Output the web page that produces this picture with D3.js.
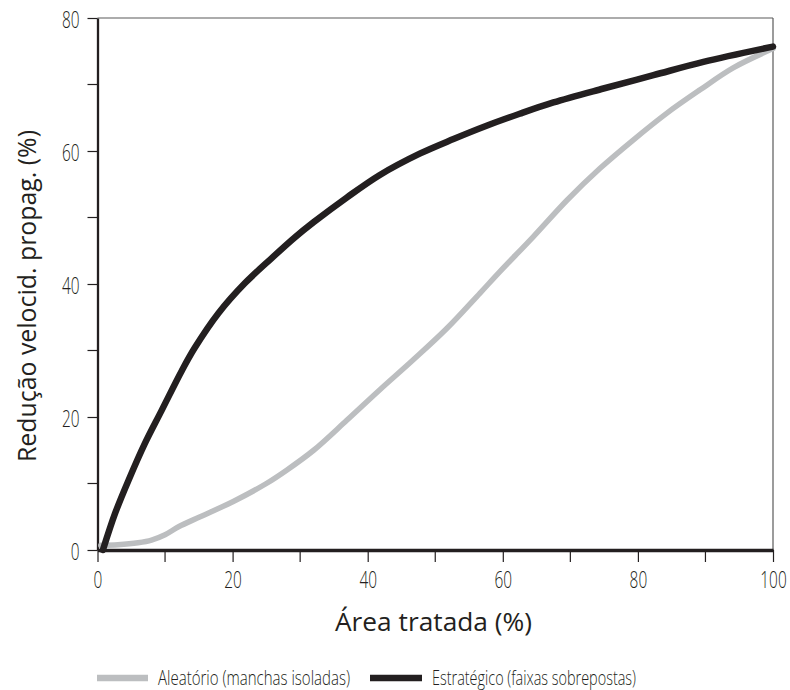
<!DOCTYPE html>
<html><head><meta charset="utf-8">
<script src="https://cdn.jsdelivr.net/npm/d3@7"></script>
<style>
body{margin:0;background:#fff;}
svg text{fill:#231f20;}
.tick text{font-family:"Open Sans",sans-serif;font-size:23px;font-weight:300;}
</style></head>
<body><svg id="c" width="790" height="690"></svg>
<script>
const areaAleatorio = [0.5,3,6,8,10,12,15.2,20.1,25,28,32,36.9,41.8,46.75,51.7,56.6,59.6,64.5,69.5,74.4,79.3,84.3,89.2,94.1,100];
const reducAleatorio = [0.7,0.8,1.1,1.5,2.3,3.5,5.0,7.3,10.0,12.0,15.0,19.5,24.1,28.6,33.3,38.6,41.9,47.1,52.6,57.4,61.65,65.7,69.2,72.5,75.4];
const areaEstrategico = [0.8,2.6,4.6,7,9.5,12.5,14.4,17.9,21.8,25.8,29.2,32,36.9,41.8,47.7,52.7,57.6,62.5,67.5,74.9,82.3,89.7,100];
const reducEstrategico = [0,5.5,10.5,16.0,21.0,27.0,30.4,35.6,40.1,43.9,47.0,49.3,53.0,56.4,59.6,61.8,63.8,65.6,67.3,69.4,71.4,73.4,75.7];
const xTicks = [0,20,40,60,80,100];
const yTicks = [0,20,40,60,80];
const seriesNames = ["Aleatório (manchas isoladas)","Estratégico (faixas sobrepostas)"];
const seriesColors = ["#bcbec0","#231f20"];
const xTitle = "Área tratada (%)";
const yTitle = "Redução velocid. propag. (%)";

const svg = d3.select("#c");
const L=97.5,R=773,T=18,B=550;
const x = d3.scaleLinear().domain([0,100]).range([L,R]);
const y = d3.scaleLinear().domain([0,80]).range([B,T]);
const sx = 0.67; // horizontal condensation of tick digits

// frame top/right
svg.append("line").attr("x1",L).attr("x2",R).attr("y1",T).attr("y2",T).attr("stroke","#5a5a5a").attr("stroke-width",1.2);
svg.append("line").attr("x1",R).attr("x2",R).attr("y1",T).attr("y2",B).attr("stroke","#5a5a5a").attr("stroke-width",1.2);

// minor ticks
const xMinor = d3.range(10,100,20);
const yMinor = d3.range(10,80,20);
svg.append("g").selectAll("line").data(xMinor).join("line")
  .attr("x1",d=>x(d)).attr("x2",d=>x(d)).attr("y1",B).attr("y2",B+12).attr("stroke","#231f20").attr("stroke-width",1.2);
svg.append("g").selectAll("line").data(yMinor).join("line")
  .attr("x1",L-10).attr("x2",L).attr("y1",d=>y(d)).attr("y2",d=>y(d)).attr("stroke","#231f20").attr("stroke-width",1.2);

const gx = svg.append("g").attr("transform",`translate(0,${B})`)
  .call(d3.axisBottom(x).tickValues(xTicks).tickSize(12).tickPadding(10).tickSizeOuter(0));
gx.select(".domain").attr("stroke","#231f20").attr("stroke-width",3.3);
gx.selectAll(".tick line").attr("stroke","#231f20").attr("stroke-width",1.2);
gx.selectAll(".tick text").attr("dy",null).attr("y",38.5).attr("x",0)
  .attr("transform",`scale(${sx},1)`);

const gy = svg.append("g").attr("transform",`translate(${L},0)`)
  .call(d3.axisLeft(y).tickValues(yTicks).tickSize(10).tickPadding(8).tickSizeOuter(0));
gy.select(".domain").attr("stroke","#231f20").attr("stroke-width",2.3);
gy.selectAll(".tick line").attr("stroke","#231f20").attr("stroke-width",1.2);
gy.selectAll(".tick text").attr("dy",null).attr("y",9.5).attr("x",-18/sx)
  .attr("transform",`scale(${sx},1)`);

const line = d3.line().x(d=>x(d[0])).y(d=>y(d[1])).curve(d3.curveCatmullRom.alpha(0.5));
const dA = areaAleatorio.map((v,i)=>[v,reducAleatorio[i]]);
const dE = areaEstrategico.map((v,i)=>[v,reducEstrategico[i]]);
svg.append("path").attr("d",line(dA)).attr("fill","none").attr("stroke",seriesColors[0]).attr("stroke-width",5.5).attr("stroke-linecap","round");
svg.append("path").attr("d",line(dE)).attr("fill","none").attr("stroke",seriesColors[1]).attr("stroke-width",6.5).attr("stroke-linecap","round");

// titles
svg.append("text").attr("x",433.5).attr("y",631).attr("text-anchor","middle")
  .attr("textLength",197).attr("lengthAdjust","spacingAndGlyphs")
  .style("font-family","'Open Sans',sans-serif").style("font-size","25px").text(xTitle);
svg.append("text").attr("transform","translate(36,296) rotate(-90)").attr("text-anchor","middle")
  .attr("textLength",332).attr("lengthAdjust","spacingAndGlyphs")
  .style("font-family","'Open Sans',sans-serif").style("font-size","25px").text(yTitle);

// legend
const lg = [{x0:97,x1:148,tx:158,w:192},{x0:370,x1:422,tx:432,w:204}];
lg.forEach((p,i)=>{
  svg.append("line").attr("x1",p.x0).attr("x2",p.x1).attr("y1",678).attr("y2",678)
    .attr("stroke",seriesColors[i]).attr("stroke-width",6.5);
  svg.append("text").attr("x",p.tx).attr("y",684.5)
    .attr("textLength",p.w).attr("lengthAdjust","spacingAndGlyphs")
    .style("font-family","'Open Sans',sans-serif").style("font-weight","300").style("font-size","20px").text(seriesNames[i]);
});
</script></body></html>
